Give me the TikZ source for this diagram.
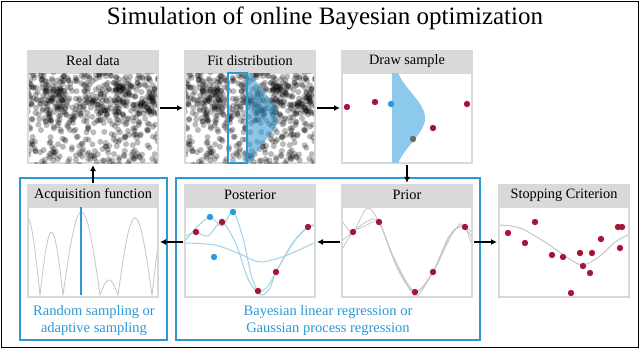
\documentclass[tikz,border=0pt]{standalone}
\usepackage{fontspec}
\setmainfont{Liberation Serif}
\usetikzlibrary{arrows.meta}
\definecolor{bayesblue}{RGB}{45,152,212}
\definecolor{shadeblue}{RGB}{140,201,236}
\definecolor{curveblue}{RGB}{160,210,232}
\definecolor{pointred}{RGB}{163,22,56}
\definecolor{pointblue}{RGB}{38,155,222}
\definecolor{pointgray}{RGB}{105,105,105}
\definecolor{headgray}{RGB}{217,217,217}
\definecolor{curvegray}{RGB}{198,198,198}
\tikzset{
  panel/.style={draw=headgray, line width=2pt, fill=white, minimum width=130pt, minimum height=90pt, inner sep=0pt},
  head/.style={fill=headgray, minimum width=132pt, minimum height=22pt, inner sep=0pt, font=\fontsize{14.3}{16}\selectfont},
  flow/.style={-{Latex[length=6pt,width=6pt]}, line width=1.5pt, shorten <=1pt, shorten >=1pt},
  group/.style={draw=bayesblue, line width=2pt},
  note/.style={text=bayesblue, align=center, font=\fontsize{14.5}{17}\selectfont},
  dot/.style={fill=black, fill opacity=0.27},
  redpt/.style={fill=pointred},
  bluept/.style={fill=pointblue},
  gpcurve/.style={curvegray, line width=0.8pt},
  postcurve/.style={curveblue, line width=1pt}
}
\begin{document}
\begin{tikzpicture}[x=1pt, y=-1pt]
  \useasboundingbox (0,0) rectangle (640,349);
  \draw[line width=1pt] (1.5,1.5) rectangle (638.5,347.5);

  \node (title) at (325,18) {\fontsize{25}{28}\selectfont Simulation of online Bayesian optimization};

  \draw[group] (20,178) rectangle (167,340);
  \draw[group] (176,178) rectangle (480,340);

  \node[panel] (real) at (93,118) {};
  \node[panel] (fit) at (250,118) {};
  \node[panel] (samp) at (407,118) {};
  \node[panel] (acq) at (93,252) {};
  \node[panel] (post) at (250,252) {};
  \node[panel] (prior) at (407,252) {};
  \node[panel] (stop) at (564,252) {};

  \node[head] (realh) at (93,61) {Real data};
  \node[head] (fith) at (250,61) {Fit distribution};
  \node[head] (samph) at (407,61) {Draw sample};
  \node[head] (acqh) at (93,195) {Acquisition function};
  \node[head] (posth) at (250,195) {Posterior};
  \node[head] (priorh) at (407,195) {Prior};
  \node[head] (stoph) at (564,195) {Stopping Criterion};

  \foreach \ox in {0,157}{
    \begin{scope}
      \clip (29+\ox,73) rectangle (157+\ox,163);
      \pgfmathsetseed{17}
      \foreach \i in {1,...,330}{
        \pgfmathsetmacro\px{\ox+27+132*rnd}
        \pgfmathsetmacro\py{71+94*rnd}
        \fill[dot] (\px,\py) circle (3pt);
      }
      \foreach \i in {1,...,330}{
        \pgfmathsetmacro\px{\ox+27+132*rnd}
        \pgfmathsetmacro\py{100+28*(rnd+rnd+rnd-1.5)}
        \fill[dot] (\px,\py) circle (3pt);
      }
    \end{scope}
  }
  \draw[bayesblue, line width=1.2pt] (228,73) rectangle (247,163);
  \fill[bayesblue, fill opacity=0.55] (247,73) -- plot[variable=\t, domain=73:163, samples=50] ({247+31*exp(-((\t-117)^2)/1060)},\t) -- (247,163) -- cycle;

  \fill[shadeblue] (392,73) -- plot[variable=\t, domain=73:163, samples=50] ({392+33*exp(-((\t-118)^2)/1200)},\t) -- (392,163) -- cycle;
  \foreach \p in {(347,107),(375,102),(467,104),(433,128)}
    \fill[redpt] \p circle (3.2pt);
  \fill[bluept] (391,104) circle (3.2pt);
  \fill[pointgray] (413,139) circle (3.2pt);

  \begin{scope}
    \clip (29,207) rectangle (157,297);
    \foreach \a/\b/\h in {14/40/78, 40/63/63, 63/100/83, 100/118/15, 118/152/77, 152/180/79}
      \draw[gpcurve] plot[domain=\a:\b, samples=30] (\x,{295-\h*sin(180*(\x-\a)/(\b-\a))});
  \end{scope}
  \draw[bayesblue, line width=1.2pt] (81,207) -- (81,295);

  \begin{scope}
    \clip (186,207) rectangle (314,297);
    \draw[postcurve] plot[smooth] coordinates {(186,243) (215,245) (240,254) (260,262) (285,256) (314,243)};
    \draw[postcurve] plot[smooth] coordinates {(186,236) (196,232) (208,236) (222,222) (236,244) (248,279) (258,292) (268,286) (276,272) (292,244) (308,227) (314,225)};
    \draw[postcurve] plot[smooth] coordinates {(186,240) (196,228) (210,217) (222,226) (233,212) (243,238) (252,278) (261,295) (270,288) (276,272) (295,240) (308,227) (314,226)};
  \end{scope}
  \foreach \p in {(196,232),(222,222),(258,291),(276,272),(308,227)}
    \fill[redpt] \p circle (3.2pt);
  \foreach \p in {(210,217),(233,212),(214,257)}
    \fill[bluept] \p circle (3.2pt);

  \begin{scope}
    \clip (343,207) rectangle (471,297);
    \draw[gpcurve] plot[smooth] coordinates {(343,222) (353,232) (367,208) (379,222) (395,260) (415,292) (433,272) (450,238) (460,224) (465,227) (471,236)};
    \draw[gpcurve] plot[smooth] coordinates {(343,240) (353,232) (366,222) (379,222) (398,270) (415,292) (433,272) (452,232) (465,227) (471,232)};
    \draw[gpcurve] plot[smooth] coordinates {(343,248) (353,232) (365,226) (379,222) (392,255) (410,290) (418,295) (433,272) (448,238) (460,226) (465,227) (471,242)};
  \end{scope}
  \foreach \p in {(353,232),(379,222),(415,292),(433,272),(465,227)}
    \fill[redpt] \p circle (3.2pt);

  \begin{scope}
    \clip (500,207) rectangle (628,297);
    \draw[gpcurve, line width=1pt] plot[smooth] coordinates {(500,225) (520,228) (545,242) (568,258) (583,265) (600,256) (615,242) (628,235)};
  \end{scope}
  \foreach \p in {(508,233),(535,222),(525,243),(552,255),(563,257),(580,253),(592,253),(601,239),(618,227),(622,227),(620,248),(583,266),(590,273),(571,293)}
    \fill[redpt] \p circle (3.2pt);

  \node[note] (acqnote) at (94,321) {Random sampling or\\adaptive sampling};
  \node[note] (regnote) at (328,321) {Bayesian linear regression or\\Gaussian process regression};

  \draw[flow] ([yshift=10pt]real.east) -- ([yshift=10pt]fit.west);
  \draw[flow] ([yshift=10pt]fit.east) -- ([yshift=10pt]samp.west);
  \draw[flow] (samp.south) -- (priorh.north);
  \draw[flow] ([yshift=10pt]prior.west) -- ([yshift=10pt]post.east);
  \draw[flow] ([yshift=10pt]post.west) -- ([yshift=10pt]acq.east);
  \draw[flow] ([yshift=10pt]prior.east) -- ([yshift=10pt]stop.west);
  \draw[flow] (acqh.north) -- (real.south);
\end{tikzpicture}
\end{document}
